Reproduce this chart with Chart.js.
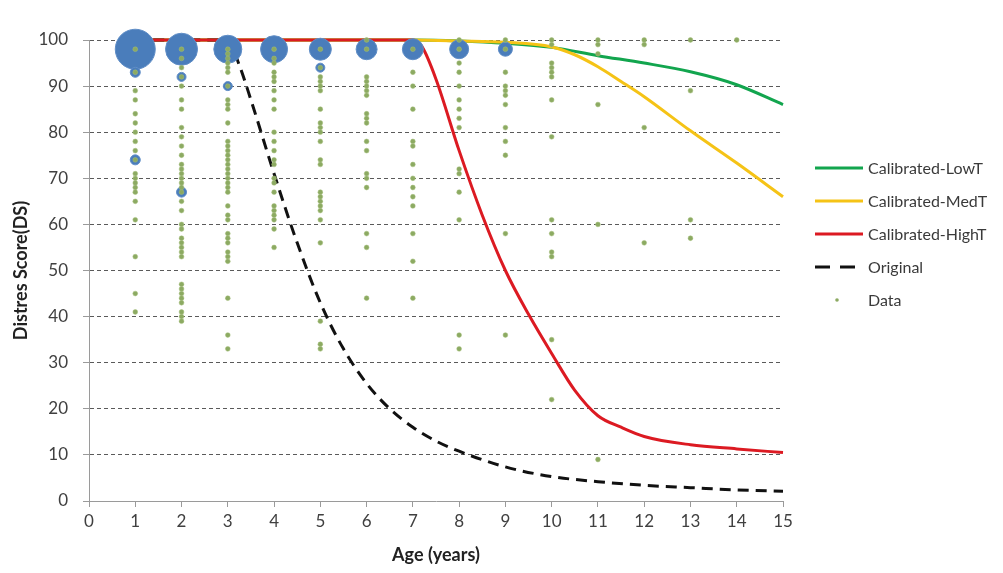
<!DOCTYPE html>
<html>
<head>
<meta charset="utf-8">
<title>Distres Score by Age</title>
<script src="https://cdn.jsdelivr.net/npm/chart.js@4.4.1/dist/chart.umd.min.js"></script>
<style>
  html, body { margin: 0; padding: 0; background: #fff; }
  #wrap { position: relative; width: 1003px; height: 573px; }
</style>
</head>
<body>
<div id="wrap"><canvas id="ds"></canvas></div>
<script>
// Model curves (age in years -> distres score)
var lowAges  = [1, 7, 8, 9, 10, 11, 12, 13, 14, 15];
var lowVals  = [100, 100, 99.8, 99.3, 98.4, 96.6, 95, 93.1, 90.3, 86];

var medAges  = [1, 7, 8, 9, 10, 10.5, 11, 11.5, 12, 13, 14, 15];
var medVals  = [100, 100, 99.8, 99.5, 98.5, 96.8, 94.2, 91, 87.7, 80.3, 73.3, 66];

var highAges = [1, 7, 7.2, 7.5, 8, 8.5, 9, 9.5, 10, 10.5, 11, 11.5, 12, 13, 14, 15];
var highVals = [100, 100, 98.5, 91.5, 76, 62, 50, 40.5, 32, 24, 18.5, 16, 14, 12.2, 11.3, 10.5];

var origAges = [1, 3, 3.25, 3.5, 4, 4.5, 5, 5.5, 6, 6.5, 7, 7.5, 8, 9, 10, 11, 12, 13, 14, 15];
var origVals = [100, 100, 94.5, 87, 71, 56, 43, 33, 25.5, 20, 16, 13, 10.8, 7.4, 5.3, 4.2, 3.4, 2.9, 2.4, 2.1];

// Observed scores, one list per age
var scoresAge1  = [98, 93, 89, 87, 84, 82, 80, 78, 76, 74, 71, 70, 69, 68, 67, 65, 61, 53, 45, 41];
var scoresAge2  = [98, 96, 94, 92, 90, 87, 85, 81, 79, 77, 75, 73, 72, 71, 70, 69, 68, 67, 65, 63, 60, 59, 57, 56, 55, 54, 53, 47, 46, 45, 44, 43, 41, 40, 39];
var scoresAge3  = [98, 97, 96, 95, 94, 93, 90, 87, 86, 85, 82, 78, 77, 76, 75, 74, 73, 72, 71, 70, 69, 68, 67, 64, 62, 61, 58, 57, 56, 54, 53, 52, 44, 36, 33];
var scoresAge4  = [98, 96, 95, 93, 92, 91, 89, 87, 85, 80, 78, 76, 74, 73, 70, 69, 67, 64, 63, 62, 61, 59, 55];
var scoresAge5  = [98, 94, 92, 91, 90, 89, 85, 82, 81, 80, 78, 74, 73, 67, 66, 65, 64, 63, 61, 56, 39, 34, 33];
var scoresAge6  = [100, 98, 92, 91, 90, 89, 88, 84, 83, 82, 78, 76, 71, 70, 68, 58, 55, 44];
var scoresAge7  = [98, 93, 90, 85, 78, 77, 73, 70, 68, 66, 64, 58, 52, 44];
var scoresAge8  = [100, 98, 95, 93, 90, 87, 85, 83, 81, 72, 71, 67, 61, 36, 33];
var scoresAge9  = [100, 98, 93, 90, 89, 88, 86, 81, 78, 75, 58, 36];
var scoresAge10 = [100, 99, 95, 94, 93, 92, 87, 79, 61, 58, 54, 53, 35, 22];
var scoresAge11 = [100, 99, 97, 86, 60, 9];
var scoresAge12 = [100, 99, 81, 56];
var scoresAge13 = [100, 89, 61, 57];
var scoresAge14 = [100];

// Frequency bubbles: age, score, radius (px)
var bubbleAges   = [1, 2, 3, 4, 5, 6, 7, 8, 9, 1, 2, 3, 5, 1, 2];
var bubbleScores = [98, 98, 98, 98, 98, 98, 98, 98, 98, 93, 92, 90, 94, 74, 67];
var bubbleRadii  = [20, 16, 14, 13.5, 11, 10.5, 10.5, 9.5, 7, 5, 4.5, 4.5, 4.5, 5, 5];

var xTicks = [0, 15, 1];     // min, max, step
var yTicks = [0, 100, 10];

var FONT = "Lato, 'Open Sans', sans-serif";

function pts(xs, ys) {
  return xs.map(function (x, i) { return { x: x, y: ys[i] }; });
}

var allScores = [scoresAge1, scoresAge2, scoresAge3, scoresAge4, scoresAge5, scoresAge6, scoresAge7,
                 scoresAge8, scoresAge9, scoresAge10, scoresAge11, scoresAge12, scoresAge13, scoresAge14];
var dots = [];
allScores.forEach(function (list, i) {
  list.forEach(function (s) { dots.push({ x: i + 1, y: s }); });
});

var bubbles = bubbleAges.map(function (a, i) {
  return { x: a, y: bubbleScores[i], r: bubbleRadii[i] };
});

function curve(label, xs, ys, color, order, dash) {
  return {
    type: 'line',
    label: label,
    data: pts(xs, ys),
    borderColor: color,
    backgroundColor: color,
    borderWidth: 3,
    borderDash: dash || [],
    pointRadius: 0,
    cubicInterpolationMode: 'monotone',
    fill: false,
    clip: false,
    order: order
  };
}

// legend drawn to the right of the plot
var sideLegend = {
  id: 'sideLegend',
  afterDraw: function (chart) {
    var ctx = chart.ctx;
    var x0 = 815, x1 = 863, tx = 868, y = 168, step = 33;
    ctx.save();
    ctx.font = '16px ' + FONT;
    ctx.textBaseline = 'middle';
    chart.data.datasets.forEach(function (ds) {
      if (!ds.label) return;
      if (ds.type === 'line') {
        ctx.strokeStyle = ds.borderColor;
        ctx.lineWidth = 3;
        ctx.setLineDash(ds.borderDash.length ? [15, 10] : []);
        ctx.beginPath();
        ctx.moveTo(x0, y);
        ctx.lineTo(x1, y);
        ctx.stroke();
        ctx.setLineDash([]);
      } else {
        ctx.fillStyle = ds.backgroundColor;
        ctx.beginPath();
        ctx.arc((x0 + x1) / 2 - 2, y, 1.8, 0, Math.PI * 2);
        ctx.fill();
      }
      ctx.fillStyle = '#3a3a3a';
      ctx.fillText(ds.label, tx, y + 1);
      y += step;
    });
    ctx.restore();
  }
};

new Chart(document.getElementById('ds'), {
  type: 'scatter',
  data: {
    datasets: [
      curve('Calibrated-LowT', lowAges, lowVals, '#12a54e', 7),
      curve('Calibrated-MedT', medAges, medVals, '#f5c316', 6),
      curve('Calibrated-HighT', highAges, highVals, '#dc1a22', 4),
      curve('Original', origAges, origVals, '#111111', 5, [11, 7]),
      {
        type: 'bubble',
        data: bubbles,
        backgroundColor: '#4a7dbb',
        borderColor: '#5f8dc6',
        borderWidth: 1,
        clip: false,
        order: 2
      },
      {
        type: 'scatter',
        label: 'Data',
        data: dots,
        backgroundColor: '#8caa62',
        borderColor: '#a2bc78',
        borderWidth: 0.5,
        pointRadius: 2.4,
        clip: false,
        order: 1
      }
    ]
  },
  options: {
    responsive: true,
    maintainAspectRatio: false,
    animation: false,
    layout: { padding: { top: 40, right: 220, left: 0, bottom: 0 } },
    plugins: {
      legend: { display: false },
      tooltip: { enabled: false }
    },
    scales: {
      x: {
        type: 'linear',
        min: xTicks[0],
        max: xTicks[1],
        ticks: {
          stepSize: xTicks[2],
          color: '#404040',
          font: { family: FONT, size: 17 },
          padding: 4
        },
        grid: { drawOnChartArea: false, tickLength: 6, tickColor: '#9a9a9a' },
        border: { color: '#9a9a9a', width: 1 },
        title: {
          display: true,
          text: 'Age (years)',
          color: '#222',
          font: { family: FONT, size: 18, weight: 'bold' },
          padding: { top: 0, bottom: 7 }
        },
        afterFit: function (s) { s.height = 72; }
      },
      y: {
        min: yTicks[0],
        max: yTicks[1],
        ticks: {
          stepSize: yTicks[2],
          color: '#404040',
          font: { family: FONT, size: 17 },
          padding: 15
        },
        grid: {
          color: function (c) { return c.tick && c.tick.value === 0 ? 'rgba(0,0,0,0)' : '#5a5a5a'; },
          tickLength: 6,
          tickColor: '#9a9a9a',
          tickBorderDash: []
        },
        // in v4 border.dash sets the dash of the grid lines
        border: { color: '#9a9a9a', width: 1, dash: [4, 3] },
        title: {
          display: true,
          text: 'Distres Score(DS)',
          color: '#222',
          font: { family: FONT, size: 18, weight: 'bold' },
          padding: { top: 10, bottom: 0 }
        },
        afterFit: function (s) { s.width = 89; }
      }
    }
  },
  plugins: [sideLegend]
});
</script>
</body>
</html>
